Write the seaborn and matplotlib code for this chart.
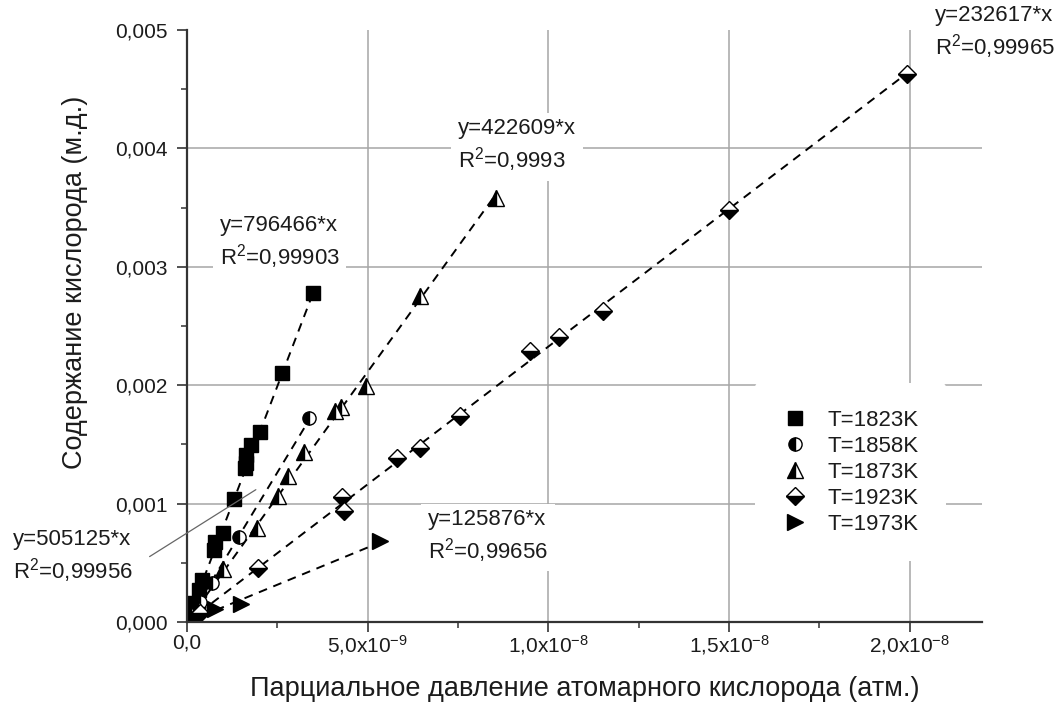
import matplotlib
matplotlib.use("Agg")
import matplotlib.pyplot as plt
import numpy as np
import pandas as pd
import seaborn as sns
from matplotlib.ticker import MultipleLocator

# Partial pressure of atomic oxygen (units of 1e-9 atm) and oxygen content (units of 1e-3 mole fraction)
P_SCALE = 1e-9
C_SCALE = 1e-3

p_1823 = [0.09, 0.18, 0.32, 0.42, 0.76, 0.77, 1.01, 1.31, 1.61, 1.62, 1.64, 1.77, 2.01, 2.63, 3.49]
c_1823 = [0.076, 0.16, 0.27, 0.355, 0.608, 0.678, 0.754, 1.04, 1.30, 1.34, 1.41, 1.495, 1.607, 2.105, 2.78]

p_1858 = [0.12, 0.37, 0.69, 1.43, 3.37]
c_1858 = [0.06, 0.17, 0.33, 0.72, 1.72]

p_1873 = [0.30, 1.01, 1.94, 2.51, 2.79, 3.25, 4.10, 4.25, 4.94, 6.45, 8.54]
c_1873 = [0.12, 0.45, 0.79, 1.06, 1.23, 1.44, 1.78, 1.82, 1.99, 2.75, 3.58]

p_1923 = [0.35, 1.96, 4.29, 4.34, 5.82, 6.44, 7.55, 9.50, 10.3, 11.5, 15.0, 19.93]
c_1923 = [0.08, 0.454, 1.058, 0.94, 1.383, 1.472, 1.74, 2.29, 2.41, 2.63, 3.48, 4.63]

p_1973 = [0.15, 0.78, 1.50, 5.35]
c_1973 = [0.03, 0.11, 0.155, 0.68]

temperatures = ["T=1823K", "T=1858K", "T=1873K", "T=1923K", "T=1973K"]
slopes = [796466, 505125, 422609, 232617, 125876]
r2_values = ["0,99903", "0,99956", "0,9993", "0,99965", "0,99656"]

y_ticks = [0.000, 0.001, 0.002, 0.003, 0.004, 0.005]
y_tick_labels = ["0,000", "0,001", "0,002", "0,003", "0,004", "0,005"]
x_ticks = [0.0, 5e-9, 1e-8, 1.5e-8, 2e-8]
x_tick_labels = ["0,0", "5,0x10$^{-9}$", "1,0x10$^{-8}$", "1,5x10$^{-8}$", "2,0x10$^{-8}$"]

x_label = "Парциальное давление атомарного кислорода (атм.)"
y_label = "Содержание кислорода (м.д.)"

pressures = [p_1823, p_1858, p_1873, p_1923, p_1973]
contents = [c_1823, c_1858, c_1873, c_1923, c_1973]

frames = []
for name, p, c in zip(temperatures, pressures, contents):
    frames.append(pd.DataFrame({"T": name,
                                "p": np.array(p) * P_SCALE,
                                "c": np.array(c) * C_SCALE}))
data = pd.concat(frames, ignore_index=True)

sns.set_theme(style="ticks")
plt.rcParams["font.family"] = ["Liberation Sans", "DejaVu Sans"]
plt.rcParams["mathtext.fontset"] = "custom"
plt.rcParams["mathtext.rm"] = "Liberation Sans"
plt.rcParams["mathtext.it"] = "Liberation Sans:italic"
plt.rcParams["mathtext.bf"] = "Liberation Sans:bold"

INK = "#1c1c1c"

fig = plt.figure(figsize=(10.62, 7.18), dpi=100)
ax = fig.add_axes([187 / 1062, 1 - 622 / 718, 795 / 1062, 592 / 718])

marker_styles = {
    "T=1823K": dict(marker="s", fillstyle="full", markersize=9.5),
    "T=1858K": dict(marker="o", fillstyle="left", markersize=9.5),
    "T=1873K": dict(marker="^", fillstyle="left", markersize=11),
    "T=1923K": dict(marker="D", fillstyle="bottom", markersize=9),
    "T=1973K": dict(marker=">", fillstyle="full", markersize=11),
}

# dashed proportional fits y = k * x, drawn from the origin to the last measured point
for name, k in zip(temperatures, slopes):
    sub = data[data["T"] == name]
    x_end = sub["p"].max()
    fit = pd.DataFrame({"p": [0.0, x_end], "c": [0.0, k * x_end]})
    sns.lineplot(data=fit, x="p", y="c", ax=ax, color="black", lw=1.4,
                 dashes=False, linestyle=(0, (4.5, 3.5)), estimator=None, sort=False)

handles = []
for name in temperatures:
    sub = data[data["T"] == name]
    st = marker_styles[name]
    sns.lineplot(data=sub, x="p", y="c", ax=ax, estimator=None, sort=False,
                 linestyle="none", color="black", markerfacecolor="black",
                 markerfacecoloralt="white", markeredgecolor="black",
                 markeredgewidth=1.0, **st)
    line = ax.lines[-1]
    line.set_label(name)
    handles.append(line)

ax.set_xlim(0, 2.2e-8)
ax.set_ylim(0, 0.005)
ax.set_xticks(x_ticks, x_tick_labels)
ax.set_yticks(y_ticks, y_tick_labels)
ax.xaxis.set_minor_locator(MultipleLocator(2.5e-9))
ax.yaxis.set_minor_locator(MultipleLocator(0.0005))

ax.grid(True, which="major", color="#a6a6a6", lw=1.1)
ax.set_axisbelow(True)
ax.yaxis.get_gridlines()[-1].set_visible(False)

sns.despine(ax=ax, top=True, right=True)
for side in ("left", "bottom"):
    ax.spines[side].set_color("#333333")
    ax.spines[side].set_linewidth(1.6)

ax.tick_params(which="major", direction="out", length=7, width=1.2,
               color="#333333", labelsize=15, labelcolor=INK, pad=7)
ax.tick_params(which="minor", direction="out", length=4, width=1.1, color="#333333")
ax.tick_params(axis="x", which="major", pad=1)

ax.set_xlabel(x_label, fontsize=19.5, color=INK, labelpad=14)
ax.set_ylabel(y_label, fontsize=19.5, color=INK)
ax.yaxis.set_label_coords(-0.125, 0.574)

leg = ax.legend(handles=handles, loc="upper left", bbox_to_anchor=(0.70, 0.422),
                frameon=True, facecolor="white", edgecolor="none", framealpha=1,
                fontsize=16, handletextpad=0.9, labelspacing=0.22,
                borderpad=1.2, handlelength=1.2)
for t in leg.get_texts():
    t.set_color(INK)

# regression equations
fit_labels = {
    "T=1823K": (0.041, 0.64),
    "T=1858K": (-0.219, 0.11),
    "T=1873K": (0.341, 0.804),
    "T=1923K": (0.941, 0.995),
    "T=1973K": (0.303, 0.144),
}
for name, k, r2 in zip(temperatures, slopes, r2_values):
    fx, fy = fit_labels[name]
    ax.text(fx, fy, f"y={k}*x\nR$^2$={r2}", transform=ax.transAxes,
            ha="left", va="center", fontsize=16, color=INK, linespacing=1.25,
            bbox=dict(facecolor="white", edgecolor="none", pad=5), zorder=4,
            clip_on=False)

# leader from the 1858K equation to its fit line
ax.annotate("", xy=(1.97e-9, 1.13e-3), xytext=(-0.05, 0.108),
            xycoords="data", textcoords="axes fraction",
            arrowprops=dict(arrowstyle="-", color="#666666", lw=0.9),
            annotation_clip=False)

fig.savefig("out.png", dpi=100)
